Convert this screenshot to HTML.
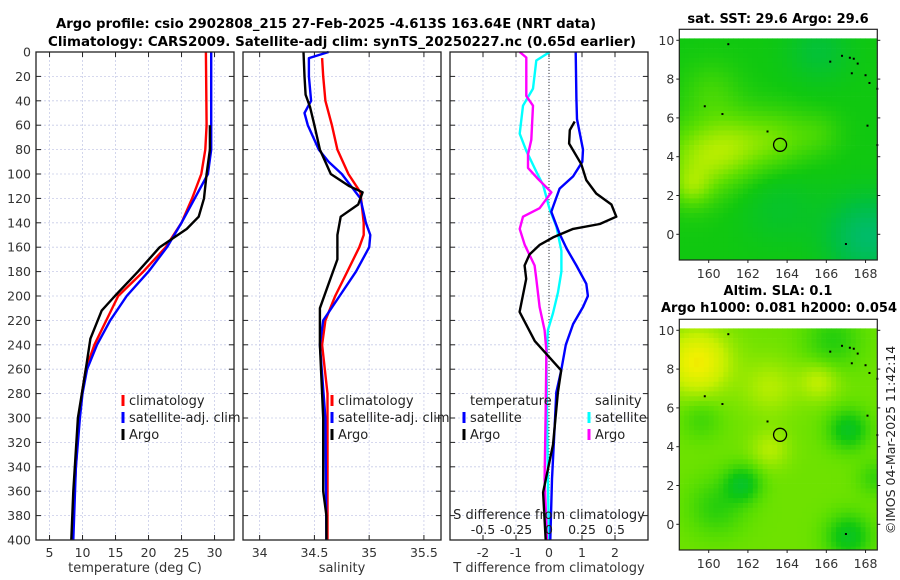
<!DOCTYPE html>
<html><head><meta charset="utf-8">
<style>
html,body{margin:0;padding:0;background:#fff;}
svg{display:block;font-family:"DejaVu Sans","Liberation Sans",sans-serif;}
</style></head>
<body>
<svg id="fig" width="900" height="580" viewBox="0 0 900 580" xmlns="http://www.w3.org/2000/svg">
<text x="326" y="28" text-anchor="middle" font-size="13" font-weight="bold" textLength="540" lengthAdjust="spacingAndGlyphs">Argo profile: csio 2902808_215 27-Feb-2025 -4.613S 163.64E (NRT data)</text>
<text x="342" y="46" text-anchor="middle" font-size="13" font-weight="bold" textLength="588" lengthAdjust="spacingAndGlyphs">Climatology: CARS2009. Satellite-adj clim: synTS_20250227.nc (0.65d earlier)</text>
<g id="g1"></g>
<g id="g2"></g>
<g id="g3"></g>
<g id="m1"></g>
<g id="m2"></g>
<text x="778" y="23" text-anchor="middle" font-size="13" font-weight="bold">sat. SST: 29.6 Argo: 29.6</text>
<text x="778" y="295" text-anchor="middle" font-size="13" font-weight="bold">Altim. SLA: 0.1</text>
<text x="779" y="312" text-anchor="middle" font-size="13" font-weight="bold" textLength="236" lengthAdjust="spacingAndGlyphs">Argo h1000: 0.081 h2000: 0.054</text>
<text transform="translate(895,440) rotate(-90)" text-anchor="middle" font-size="12.5" fill="#222">©IMOS 04-Mar-2025 11:42:14</text>
</svg>
<script>
// ---------- data ----------
const depthTicks=[0,20,40,60,80,100,120,140,160,180,200,220,240,260,280,300,320,340,360,380,400];
const tTicks=[5,10,15,20,25,30];
const sTicks=[34,34.5,35,35.5];
const dTicks=[-2,-1,0,1,2];
const sdTickLabels=["-0.5","-0.25","0","0.25","0.5"];
const sdTicks=[-0.5,-0.25,0,0.25,0.5];

const climTdepth=[0,60,80,100,120,140,160,180,200,220,240,260,280,300,340,400];
const climT=[28.7,28.8,28.6,28.0,26.6,25.0,22.6,19.2,15.4,13.6,11.8,10.5,9.9,9.5,9.0,8.4];
const satTdepth=[0,80,100,120,140,160,180,200,220,240,260,280,300,340,400];
const satT=[29.5,29.5,29.0,27.0,25.0,22.8,20.0,16.7,14.2,12.2,10.7,10.0,9.6,9.0,8.6];
const argoTdepth=[60,80,100,120,135,145,160,180,200,212,235,260,300,360,400];
const argoT=[29.3,29.3,28.8,28.4,27.6,25.8,21.7,18.4,14.9,12.9,11.2,10.5,9.3,8.6,8.3];

const climSdepth=[5,20,40,60,80,100,115,140,150,160,180,200,220,240,280,400];
const climS=[34.57,34.58,34.60,34.66,34.71,34.81,34.92,34.95,34.95,34.91,34.80,34.69,34.60,34.57,34.62,34.62];
const satSdepth=[0,5,20,40,50,60,80,90,100,120,140,150,160,180,200,220,240,300,400];
const satS=[34.63,34.45,34.45,34.47,34.41,34.44,34.54,34.63,34.75,34.92,34.97,35.01,35.0,34.88,34.73,34.58,34.55,34.60,34.61];
const argoSdepth=[0,20,35,45,60,80,100,110,115,125,135,150,170,190,210,240,300,360,380,400];
const argoS=[34.40,34.41,34.42,34.46,34.50,34.55,34.65,34.82,34.94,34.90,34.74,34.71,34.71,34.63,34.55,34.55,34.58,34.58,34.61,34.61];

const dSatTdepth=[0,38,55,80,90,102,112,127,131,149,161,175,190,200,209,223,240,261,279,308,350,400];
const dSatT=[0.81,0.83,0.85,1.03,1.01,0.73,0.32,0.12,0.07,0.32,0.53,0.83,1.13,1.18,1.03,0.73,0.51,0.37,0.22,0.17,0.09,0.04];
const dArgoTdepth=[57,64,75,92,105,116,125,135,141,145,152,158,166,175,186,213,237,261,279,322,361,400];
const dArgoT=[0.78,0.63,0.61,0.98,1.13,1.43,1.89,2.04,1.54,0.73,0.12,-0.28,-0.59,-0.74,-0.69,-0.89,-0.43,0.37,0.27,0.12,-0.18,-0.10];
const dSatSdepth=[0,7,30,44,67,81,98,109,129,143,163,180,197,214,228,251,293,350,400];
const dSatS=[0.005,-0.096,-0.121,-0.197,-0.222,-0.172,-0.096,-0.045,0.005,0.056,0.094,0.094,0.068,0.03,-0.008,-0.02,-0.015,-0.008,0];
const dArgoSdepth=[0,4.5,36,44,72,84,95,104,115,128,135,145,158,175,186,209,228,245,293,350,400];
const dArgoS=[-0.222,-0.172,-0.172,-0.121,-0.134,-0.159,-0.159,-0.083,0.018,-0.071,-0.197,-0.222,-0.184,-0.109,-0.096,-0.071,-0.033,-0.02,-0.025,-0.033,-0.015];

// map fields: blobs [lon, lat, radius, amplitude]
const sstBase=0.45;
const sstBlobs=[[159.3,4,2.0,0.2],[161.3,4.7,1.8,0.17],[163.5,5,1.6,0.13],[165.5,5.3,1.2,0.07],[159,2.5,1,0.12],[160,7.5,1.5,0.08],[168,0,2,-0.3],[165.5,9.6,1.6,-0.12],[163.5,1.5,2,-0.08]];
const slaBase=0.62;
const slaBlobs=[[159.3,8.5,1.6,0.26],[161.6,2.2,0.9,-0.22],[167,5,1,-0.22],[167,-0.5,1.1,-0.22],[160.3,1,1.4,-0.12],[166.2,9.6,1.4,-0.13],[168.4,2.5,0.9,-0.1],[163,7.2,1.4,0.1],[165.5,7.5,1,0.12],[163,4,1,0.1],[159.5,5.5,1,-0.08]];
const coastDots=[[161,9.8],[166.8,9.2],[166.2,8.9],[167.2,9.1],[167.4,9.05],[167.6,8.8],[167.3,8.3],[168,8.2],[168.2,7.8],[168.6,7.5],[159.8,6.6],[160.7,6.2],[163,5.3],[168.1,5.6],[168.6,4.6],[167,-0.5]];

// ---------- helpers ----------
const NS="http://www.w3.org/2000/svg";
function mk(parent,tag,attrs,text){const e=document.createElementNS(NS,tag);for(const k in attrs)e.setAttribute(k,attrs[k]);if(text!==undefined)e.textContent=text;parent.appendChild(e);return e;}
const PT=52,PB=540;
const yD=d=>PT+d*(PB-PT)/400;

function panel(g,x0,x1,vmin,vmax,ticks,labels,name){
  const xs=v=>x0+(v-vmin)/(vmax-vmin)*(x1-x0);
  depthTicks.forEach(d=>{const l=mk(g,'line',{x1:x0,x2:x1,y1:yD(d),y2:yD(d),stroke:'#c8cce8','stroke-width':0.8,'stroke-dasharray':'2,2'});
    });
  ticks.forEach(v=>{const l=mk(g,'line',{x1:xs(v),x2:xs(v),y1:PT,y2:PB,stroke:'#c8cce8','stroke-width':0.8,'stroke-dasharray':'2,2'});
    });
  depthTicks.forEach(d=>{mk(g,'line',{x1:x0,x2:x0+5,y1:yD(d),y2:yD(d),stroke:'#222'});mk(g,'line',{x1:x1-5,x2:x1,y1:yD(d),y2:yD(d),stroke:'#222'});});
  ticks.forEach((v,i)=>{mk(g,'line',{x1:xs(v),x2:xs(v),y1:PB,y2:PB-5,stroke:'#222'});mk(g,'line',{x1:xs(v),x2:xs(v),y1:PT,y2:PT+5,stroke:'#222'});
    if(labels){const t=mk(g,'text',{x:xs(v),y:PB+17,'text-anchor':'middle','font-size':12.5,fill:'#333'},labels[i]);
    }});
  return xs;
}
function frame(g,x0,x1){const r=mk(g,'rect',{x:x0,y:PT,width:x1-x0,height:PB-PT,fill:'none',stroke:'#222','stroke-width':1.3});
  }
function line(g,xs,vals,depths,color,name){
  const pts=vals.map((v,i)=>xs(v).toFixed(1)+','+yD(depths[i]).toFixed(1)).join(' ');
  const p=mk(g,'polyline',{points:pts,fill:'none',stroke:color,'stroke-width':2.4,'stroke-linejoin':'round'});
  
}
function legend(g,x,y,color,label,name){
  mk(g,'rect',{x:x-1.5,y:y-10,width:3,height:11,fill:color});
  const t=mk(g,'text',{x:x+6,y:y,'font-size':13,fill:'#222'},label);
  
}

// ---------- panel 1 ----------
const g1=document.getElementById('g1');
const xT=panel(g1,36,234,2.95,32.95,tTicks,tTicks.map(String),'temperature');
depthTicks.forEach(d=>{const t=mk(g1,'text',{x:31,y:yD(d)+4.5,'text-anchor':'end','font-size':12.5,fill:'#333'},String(d));
  });
line(g1,xT,climT,climTdepth,'#f00','climatology-temperature-line');
line(g1,xT,satT,satTdepth,'#00f','satellite-temperature-line');
line(g1,xT,argoT,argoTdepth,'#000','argo-temperature-line');
frame(g1,36,234);
legend(g1,123,405,'#f00','climatology','legend-climatology');
legend(g1,123,422,'#00f','satellite-adj. clim','legend-satellite');
legend(g1,123,439,'#000','Argo','legend-argo');
mk(g1,'text',{x:135,y:572,'text-anchor':'middle','font-size':13,fill:'#333'},'temperature (deg C)');

// ---------- panel 2 ----------
const g2=document.getElementById('g2');
const xS=panel(g2,243,441,33.848,35.656,sTicks,sTicks.map(String),'salinity');
line(g2,xS,climS,climSdepth,'#f00','climatology-salinity-line');
line(g2,xS,satS,satSdepth,'#00f','satellite-salinity-line');
line(g2,xS,argoS,argoSdepth,'#000','argo-salinity-line');
frame(g2,243,441);
legend(g2,332,405,'#f00','climatology','legend-climatology-s');
legend(g2,332,422,'#00f','satellite-adj. clim','legend-satellite-s');
legend(g2,332,439,'#000','Argo','legend-argo-s');
mk(g2,'text',{x:342,y:572,'text-anchor':'middle','font-size':13,fill:'#333'},'salinity');

// ---------- panel 3 ----------
const g3=document.getElementById('g3');
const xD=panel(g3,450,648,-3,3,dTicks,dTicks.map(String),'tdiff');
const xSD=v=>xD(v*4);
mk(g3,'line',{x1:xD(0),x2:xD(0),y1:PT,y2:PB,stroke:'#333','stroke-width':1,'stroke-dasharray':'1,2'});
line(g3,xSD,dSatS,dSatSdepth,'#00ffff','satellite-salinity-diff-line');
line(g3,xSD,dArgoS,dArgoSdepth,'#ff00ff','argo-salinity-diff-line');
line(g3,xD,dSatT,dSatTdepth,'#00f','satellite-temperature-diff-line');
line(g3,xD,dArgoT,dArgoTdepth,'#000','argo-temperature-diff-line');
frame(g3,450,648);
mk(g3,'text',{x:470,y:405,'font-size':13,fill:'#222'},'temperature');
mk(g3,'text',{x:595,y:405,'font-size':13,fill:'#222'},'salinity');
legend(g3,464,422,'#00f','satellite','legend-sat-t');
legend(g3,464,439,'#000','Argo','legend-argo-t');
legend(g3,589,422,'#00ffff','satellite','legend-sat-s');
legend(g3,589,439,'#ff00ff','Argo','legend-argo-s');
mk(g3,'text',{x:549,y:519,'text-anchor':'middle','font-size':13,fill:'#222'},'S difference from climatology');
sdTicks.forEach((v,i)=>{const t=mk(g3,'text',{x:xSD(v),y:534,'text-anchor':'middle','font-size':12.5,fill:'#222'},sdTickLabels[i]);
  });
mk(g3,'text',{x:549,y:572,'text-anchor':'middle','font-size':13,fill:'#333'},'T difference from climatology');

// ---------- maps ----------
const stops=[[0,[0,184,144]],[0.3,[0,192,64]],[0.45,[16,200,16]],[0.6,[96,224,0]],[0.75,[200,240,0]],[0.87,[240,240,0]],[1,[240,160,0]]];
function cmap(v){v=Math.max(0,Math.min(1,v));for(let i=1;i<stops.length;i++){if(v<=stops[i][0]){const a=stops[i-1],b=stops[i],f=(v-a[0])/(b[0]-a[0]);
  return 'rgb('+a[1].map((c,k)=>Math.round(c+(b[1][k]-c)*f)).join(',')+')';}}return 'rgb(240,160,0)';}
function drawMap(g,top,base,blobs,name){
  const L=679.3,R=877.3,lonMin=158.5,lonMax=168.6;
  const lat10=top+11,lat0=top+205;
  const xm=lon=>L+(lon-lonMin)/(lonMax-lonMin)*(R-L);
  const ym=lat=>lat0-(lat)*(lat0-lat10)/10;
  const B=top+230.7;
  const step=0.25;
  for(let lat=10.1;lat>-1.35;lat-=step){for(let lon=lonMin;lon<168.55;lon+=step){
    let v=base;blobs.forEach(b=>{const dx=lon-b[0],dy=lat-b[1];v+=b[3]*Math.exp(-(dx*dx+dy*dy)/(b[2]*b[2]));});
    const x=xm(lon),y=ym(lat);const w=Math.min(xm(lon+step),876.5)-x,h=Math.min(ym(lat-step),B)-y;
    if(w>0&&h>0)mk(g,'rect',{x:x.toFixed(1),y:y.toFixed(1),width:(w+0.4).toFixed(1),height:(h+0.4).toFixed(1),fill:cmap(v)});
  }}
  coastDots.forEach(c=>mk(g,'rect',{x:xm(c[0])-1,y:ym(c[1])-1,width:2,height:2,fill:'#000'}));
  const circ=mk(g,'circle',{cx:xm(163.64),cy:ym(4.613),r:6.5,fill:'none',stroke:'#000','stroke-width':1.3});
  
  const fr=mk(g,'rect',{x:L,y:top,width:R-L,height:B-top,fill:'none',stroke:'#222','stroke-width':1.2});
  
  [10,8,6,4,2,0].forEach(lat=>{mk(g,'line',{x1:L-3,x2:L,y1:ym(lat),y2:ym(lat),stroke:'#222'});mk(g,'line',{x1:R,x2:R+3,y1:ym(lat),y2:ym(lat),stroke:'#222'});
    const t=mk(g,'text',{x:L-5,y:ym(lat)+4.5,'text-anchor':'end','font-size':12.5,fill:'#333'},String(lat));
    });
  [160,162,164,166,168].forEach(lon=>{mk(g,'line',{x1:xm(lon),x2:xm(lon),y1:B,y2:B+3,stroke:'#222'});
    const t=mk(g,'text',{x:xm(lon),y:B+18,'text-anchor':'middle','font-size':12.5,fill:'#333'},String(lon));
    });
}
drawMap(document.getElementById('m1'),29.3,sstBase,sstBlobs,'sst-map');
drawMap(document.getElementById('m2'),319.3,slaBase,slaBlobs,'sla-map');
</script>
</body></html>
